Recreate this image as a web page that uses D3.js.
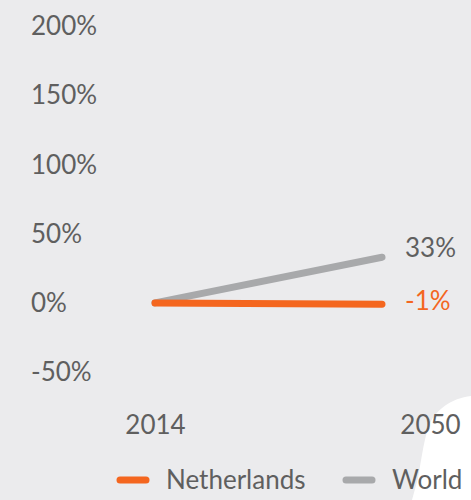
<!DOCTYPE html>
<html>
<head>
<meta charset="utf-8">
<script src="https://cdn.jsdelivr.net/npm/d3@7"></script>
<style>
    body { margin: 0; background: #ebebed; }
    text { font-family: Lato, "Open Sans", sans-serif; font-weight: 400; }
</style>
</head>
<body>
<div id="chart"></div>
<script>
// chart data
const years = ["2014", "2050"];
const netherlands = [0, -1];
const world = [0, 33];
const yTicks = [-50, 0, 50, 100, 150, 200];
const seriesNames = ["Netherlands", "World"];
const seriesColors = ["#f4661f", "#a8a9ab"];

const width = 471, height = 500;
const textColor = "#5f5f5f";
const fontSize = "26px";

const svg = d3.select("#chart").append("svg")
    .attr("width", width)
    .attr("height", height);

svg.append("rect")
    .attr("width", width)
    .attr("height", height)
    .attr("fill", "#ebebed");

// white shape in the bottom-right corner
svg.append("path")
    .attr("d", "M471,396 C452,398 434,410 428,428 C423,445 421,462 418,478 L412,500 L471,500 Z")
    .attr("fill", "#ffffff");

let x = d3.scalePoint().domain(years).range([155, 382]);
let y = d3.scaleLinear().domain([-50, 200]).range([372, 26.5]);

// y axis, labels only
let yAxis = svg.append("g")
    .attr("transform", "translate(31,0)")
    .call(d3.axisLeft(y).tickValues(yTicks).tickSize(0).tickFormat(d => d + "%"));
yAxis.select(".domain").remove();
yAxis.selectAll("text")
    .attr("x", 0)
    .attr("text-anchor", "start")
    .attr("fill", textColor)
    .style("font-size", fontSize);

// x labels
let xAxis = svg.append("g")
    .attr("transform", "translate(0,425)")
    .call(d3.axisBottom(x).tickSize(0));
xAxis.select(".domain").remove();
xAxis.selectAll("text")
    .attr("y", 0)
    .attr("dy", "0.35em")
    .attr("fill", textColor)
    .style("font-size", fontSize);
xAxis.selectAll(".tick").filter(d => d === "2050")
    .select("text").attr("x", 48);

const line = d3.line()
    .x((d, i) => x(years[i]))
    .y(d => y(d));

const series = [netherlands, world];

// draw world first so netherlands sits on top
[1, 0].forEach(k => {
    svg.append("path")
        .datum(series[k])
        .attr("d", line)
        .attr("fill", "none")
        .attr("stroke", seriesColors[k])
        .attr("stroke-width", 7)
        .attr("stroke-linecap", "round");
});

// end labels
svg.append("text")
    .attr("x", 405)
    .attr("y", y(world[1]) - 9)
    .attr("dy", "0.35em")
    .attr("fill", textColor)
    .style("font-size", fontSize)
    .text(world[1] + "%");

svg.append("text")
    .attr("x", 405)
    .attr("y", y(netherlands[1]) - 3)
    .attr("dy", "0.35em")
    .attr("fill", seriesColors[0])
    .style("font-size", fontSize)
    .text(netherlands[1] + "%");

// legend
const legendX = [117, 343];
seriesNames.forEach((name, i) => {
    let g = svg.append("g").attr("transform", "translate(" + legendX[i] + ",480)");
    g.append("line")
        .attr("x1", 3).attr("x2", 29)
        .attr("stroke", seriesColors[i])
        .attr("stroke-width", 7)
        .attr("stroke-linecap", "round");
    g.append("text")
        .attr("x", 49)
        .attr("dy", "0.35em")
        .attr("fill", textColor)
        .style("font-size", fontSize)
        .text(name);
});
</script>
</body>
</html>
